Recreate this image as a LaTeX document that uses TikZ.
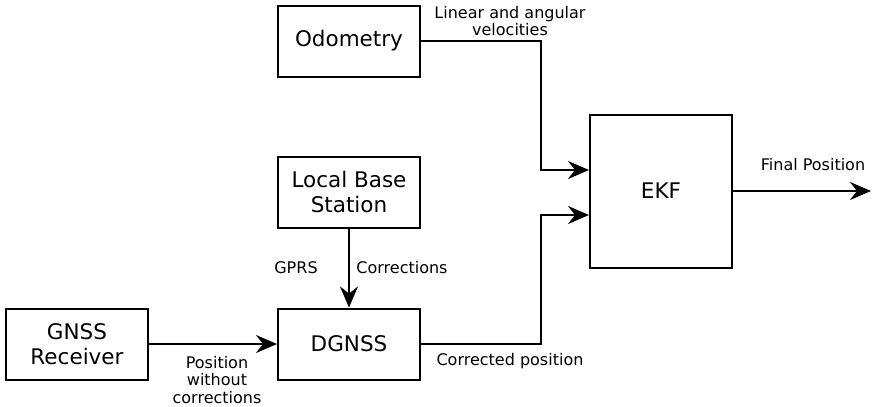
\documentclass[tikz,border=0pt]{standalone}
\usepackage{fontspec}
\setmainfont{DejaVu Sans}
\usetikzlibrary{arrows.meta}

\begin{document}
\begin{tikzpicture}
[x=1pt, y=-1pt, line width=2pt,
block/.style={rectangle, draw, inner sep=0pt, minimum width=142pt, minimum height=71pt, align=center, font=\fontsize{21.5}{25}\selectfont},
bigblock/.style={block, minimum height=153pt},
lbl/.style={inner sep=0pt, align=center, font=\fontsize{16}{17.5}\selectfont},
flow/.style={-{Stealth[length=21pt, width=18pt, inset=7pt]}, line width=2pt}
]

\useasboundingbox (0,0) rectangle (873,407);

\node[block] (odo) at (349,41) {Odometry};
\node[block] (lbs) at (349,192) {Local Base\\Station};
\node[block] (gnss) at (77,344) {GNSS\\Receiver};
\node[block] (dgnss) at (349,344) {DGNSS};
\node[bigblock] (ekf) at (661,191) {EKF};

\coordinate (bendA) at (541,170);
\coordinate (bendB) at (541,215);
\coordinate (out) at (871,191);

\draw[flow] (odo.east) -| (bendA) -- (bendA -| ekf.west);
\draw[flow] (dgnss.east) -| (bendB) -- (bendB -| ekf.west);
\draw[flow] (lbs.south) -- (dgnss.north);
\draw[flow] (gnss.east) -- (dgnss.west);
\draw[flow] (ekf.east) -- (out);

\node[lbl] (velo) at (510,21) {Linear and angular\\velocities};
\node[lbl] (gprs) at (296,268) {GPRS};
\node[lbl] (corr) at (402,268) {Corrections};
\node[lbl] (posw) at (217,380) {Position\\without\\corrections};
\node[lbl] (cpos) at (510,361) {Corrected position};
\node[lbl] (fpos) at (813,165) {Final Position};

\end{tikzpicture}
\end{document}
